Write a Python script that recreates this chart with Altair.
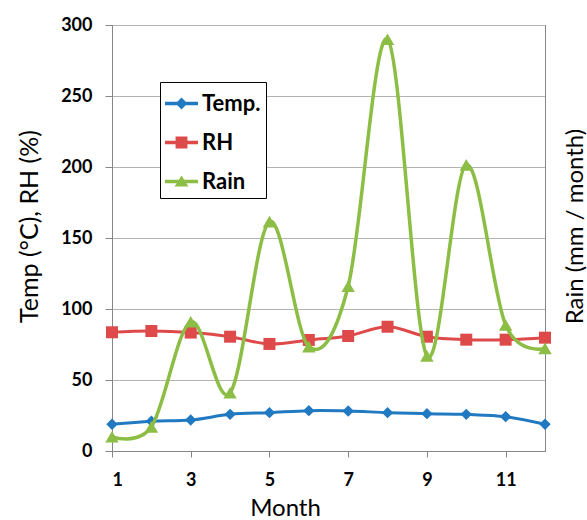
import altair as alt
import pandas as pd

months = list(range(1, 13))
temp = [18.8, 21.0, 21.8, 25.8, 27.0, 28.4, 28.2, 27.0, 26.3, 25.8, 24.2, 18.8]
rh = [83.6, 84.5, 83.4, 80.5, 75.4, 78.2, 81.0, 87.5, 80.5, 78.4, 78.4, 79.8]
rain = [10, 17, 91, 41, 161.5, 73.5, 116, 290, 67, 201.5, 88.7, 72.3]
series = ["Temp.", "RH", "Rain"]
colors = ["#2079C1", "#DE4A4A", "#8CBD45"]
x_ticks = [1, 3, 5, 7, 9, 11]
y_ticks = [0, 50, 100, 150, 200, 250, 300]

rows = []
for name, col, vals in zip(series, colors, [temp, rh, rain]):
    for m, v in zip(months, vals):
        rows.append({"month": m, "value": v, "series": name, "hex": col})
df = pd.DataFrame(rows)

# legend symbols: line segment + marker (unit = sqrt(size)/2 px)
legend_paths = [
    "M-1,-0.1L1,-0.1L1,0.1L-1,0.1ZM0,-0.36L0.36,0L0,0.36L-0.36,0Z",
    "M-1,-0.1L1,-0.1L1,0.1L-1,0.1ZM-0.36,-0.36L0.36,-0.36L0.36,0.36L-0.36,0.36Z",
    "M-1,-0.1L1,-0.1L1,0.1L-1,0.1ZM0,-0.36L0.42,0.3L-0.42,0.3Z",
]

FONT = "Lato"
GRAY = "#868686"

x_enc = alt.X(
    "month:Q",
    scale=alt.Scale(domain=[1, 12], nice=False, zero=False),
    axis=alt.Axis(
        values=x_ticks, title="Month", grid=False,
        labelFont=FONT, labelFontSize=18, labelFontWeight="bold", labelColor="black",
        labelPadding=14, tickSize=6, tickColor=GRAY, domainColor=GRAY,
        titleFont=FONT, titleFontSize=24, titleFontWeight="normal", titleColor="black",
        titleX=173, titleY=64, titleBaseline="alphabetic", titleAlign="center",
    ),
)
y_left = alt.Y(
    "value:Q",
    scale=alt.Scale(domain=[0, 300], nice=False),
    axis=alt.Axis(
        values=y_ticks, title="Temp (°C), RH (%)", grid=True, gridColor="#B3B3B3",
        labelFont=FONT, labelFontSize=18, labelFontWeight="bold", labelColor="black",
        labelPadding=13, tickSize=7, tickColor=GRAY, domainColor=GRAY,
        titleFont=FONT, titleFontSize=25, titleFontWeight="normal", titleColor="black",
        titleAngle=270, titleX=-83, titleY=201, titleBaseline="middle", titleAlign="center",
    ),
)
y_right = alt.Y(
    "value:Q",
    scale=alt.Scale(domain=[0, 300], nice=False),
    axis=alt.Axis(
        orient="right", title="Rain (mm / month)", grid=False, labels=False, ticks=False,
        domainColor=GRAY,
        titleFont=FONT, titleFontSize=24, titleFontWeight="normal", titleColor="black",
        titleAngle=270, titleX=30, titleY=201, titleBaseline="middle", titleAlign="center",
    ),
)

leg = alt.Legend(
    orient="none", legendX=48, legendY=57, title=None,
    symbolSize=1089, symbolStrokeWidth=0, symbolOpacity=1,
    labelFont=FONT, labelFontSize=22, labelFontWeight="bold", labelColor="black",
    labelOffset=4, labelLimit=300, padding=5, rowPadding=11,
    strokeColor="black", fillColor="white",
)

base = alt.Chart(df)
color_id = alt.Color("hex:N", scale=None)

legend_layer = base.mark_point(filled=True, opacity=0, size=1089).encode(
    x=x_enc, y=y_left,
    color=alt.Color("series:N", scale=alt.Scale(domain=series, range=colors), legend=leg),
    shape=alt.Shape("series:N", scale=alt.Scale(domain=series, range=legend_paths), legend=leg),
)

lines_left = base.transform_filter(
    alt.FieldOneOfPredicate(field="series", oneOf=["Temp.", "RH"])
).mark_line(interpolate="cardinal", strokeWidth=3).encode(
    x=x_enc, y=y_left, color=color_id, detail="series:N"
)

pts_temp = base.transform_filter(alt.datum.series == "Temp.").mark_point(
    shape="diamond", filled=True, size=130, opacity=1
).encode(x=x_enc, y=y_left, color=color_id)

pts_rh = base.transform_filter(alt.datum.series == "RH").mark_point(
    shape="square", filled=True, size=144, opacity=1
).encode(x=x_enc, y=y_left, color=color_id)

left = alt.layer(legend_layer, lines_left, pts_temp, pts_rh)

rain_line = base.transform_filter(alt.datum.series == "Rain").mark_line(
    interpolate="cardinal", strokeWidth=3.5
).encode(x=x_enc, y=y_right, color=color_id)
rain_pts = base.transform_filter(alt.datum.series == "Rain").mark_point(
    shape="triangle-up", filled=True, size=180, opacity=1
).encode(x=x_enc, y=y_right, color=color_id)
right = alt.layer(rain_line, rain_pts)

chart = alt.layer(left, right).resolve_scale(y="independent").properties(
    width=433, height=426,
    autosize=alt.AutoSizeParams(type="none"),
    padding={"left": 112, "top": 25, "right": 42, "bottom": 69},
    background="white",
).configure_view(stroke="#333333", strokeWidth=1)

chart.save("out.html", embed_options={"renderer": "svg", "actions": False})
